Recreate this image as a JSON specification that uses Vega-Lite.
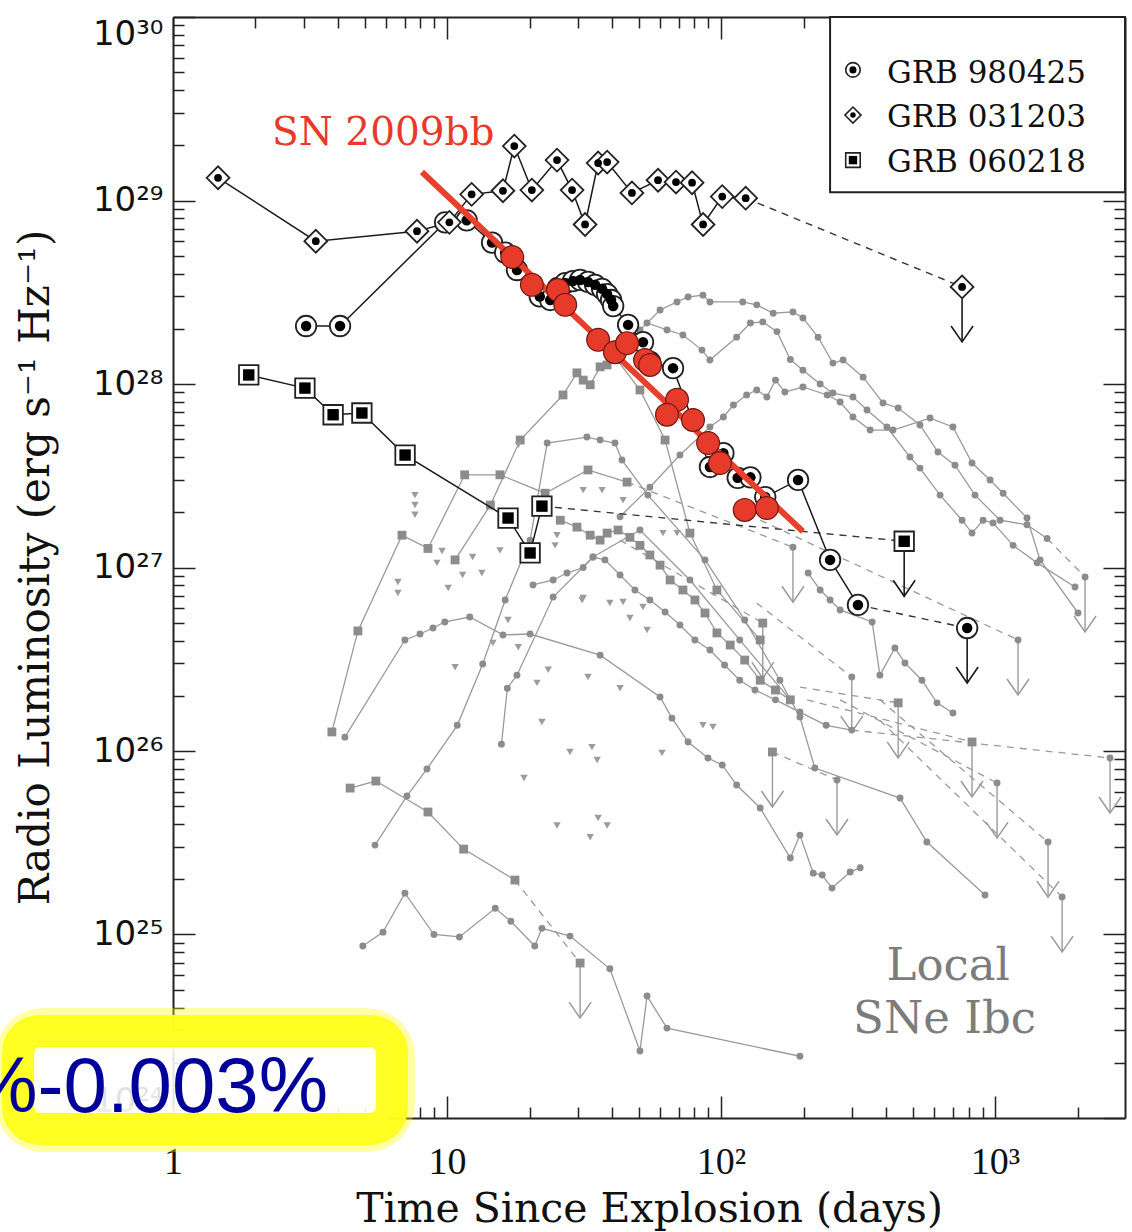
{
"$schema": "https://vega.github.io/schema/vega-lite/v6.json",
"width": 952, "height": 1101,
"padding": {"left": 173, "top": 17, "right": 7, "bottom": 114},
"autosize": {"type": "none"},
"background": "white",
"config": {"view": {"stroke": null}, "axis": {"grid": false}},
"datasets": {
"grey": [
{"s":"S1","m":"c","t":4.93,"L":8.66e24},{"s":"S1","m":"c","t":5.84,"L":1.03e25},{"s":"S1","m":"c","t":7.02,"L":1.68e25},{"s":"S1","m":"c","t":8.96,"L":1.0e25},{"s":"S1","m":"c","t":11.1,"L":9.7e24},{"s":"S1","m":"c","t":15.0,"L":1.39e25},{"s":"S1","m":"c","t":17.1,"L":1.18e25},{"s":"S1","m":"c","t":20.9,"L":8.66e24},{"s":"S1","m":"c","t":22.2,"L":1.08e25},{"s":"S1","m":"c","t":28.1,"L":9.8e24},{"s":"S1","m":"c","t":39.3,"L":6.5e24},{"s":"S1","m":"c","t":50.6,"L":2.32e24},{"s":"S1","m":"c","t":53.7,"L":4.62e24},{"s":"S1","m":"c","t":63.5,"L":3.09e24},{"s":"S1","m":"c","t":194,"L":2.17e24},
{"s":"S2","m":"s","t":4.43,"L":6.28e25},{"s":"S2","m":"s","t":5.5,"L":6.86e25},{"s":"S2","m":"s","t":8.52,"L":4.65e25},{"s":"S2","m":"s","t":11.5,"L":2.92e25},{"s":"S2","m":"s","t":17.7,"L":1.98e25},
{"s":"L1","m":"s","t":3.80,"L":1.27e26},{"s":"L1","m":"s","t":4.73,"L":4.51e26},{"s":"L1","m":"s","t":6.85,"L":1.5e27},{"s":"L1","m":"s","t":8.52,"L":1.27e27},{"s":"L1","m":"s","t":11.6,"L":3.2e27},{"s":"L1","m":"s","t":15.6,"L":3.2e27},{"s":"L1","m":"s","t":22.8,"L":2.54e27},{"s":"L1","m":"s","t":32.7,"L":3.4e27},{"s":"L1","m":"s","t":45.4,"L":2.92e27},
{"s":"L2","m":"c","t":4.24,"L":1.19e26},{"s":"L2","m":"c","t":7.02,"L":4.03e26},{"s":"L2","m":"c","t":7.97,"L":4.34e26},{"s":"L2","m":"c","t":8.89,"L":4.68e26},{"s":"L2","m":"c","t":9.82,"L":5.05e26},{"s":"L2","m":"c","t":12.1,"L":5.37e26},{"s":"L2","m":"c","t":16.0,"L":4.29e26},{"s":"L2","m":"c","t":20.1,"L":4.34e26},{"s":"L2","m":"c","t":36.2,"L":3.33e26},{"s":"L2","m":"c","t":59.9,"L":1.97e26},{"s":"L2","m":"c","t":66.2,"L":1.51e26},{"s":"L2","m":"c","t":75.8,"L":1.12e26},{"s":"L2","m":"c","t":89.6,"L":9.16e25},{"s":"L2","m":"c","t":101,"L":8.39e25},{"s":"L2","m":"c","t":114,"L":6.52e25},{"s":"L2","m":"c","t":139,"L":4.89e25},{"s":"L2","m":"c","t":179,"L":2.61e25},{"s":"L2","m":"c","t":194,"L":3.48e25},{"s":"L2","m":"c","t":217,"L":2.16e25},{"s":"L2","m":"c","t":234,"L":2.11e25},{"s":"L2","m":"c","t":254,"L":1.79e25},{"s":"L2","m":"c","t":296,"L":2.19e25},{"s":"L2","m":"c","t":322,"L":2.31e25},
{"s":"L3","m":"c","t":5.46,"L":3.07e25},{"s":"L3","m":"c","t":7.14,"L":5.68e25},{"s":"L3","m":"c","t":8.45,"L":7.98e25},{"s":"L3","m":"c","t":10.9,"L":1.38e26},{"s":"L3","m":"c","t":13.5,"L":2.98e26},{"s":"L3","m":"c","t":16.3,"L":6.65e26},{"s":"L3","m":"c","t":20.1,"L":1.41e27},{"s":"L3","m":"c","t":23.2,"L":4.77e27},{"s":"L3","m":"c","t":32.4,"L":5.14e27},{"s":"L3","m":"c","t":36.2,"L":4.95e27},{"s":"L3","m":"c","t":41.0,"L":4.77e27},{"s":"L3","m":"c","t":43.5,"L":3.85e27},{"s":"L3","m":"c","t":54.1,"L":2.48e27},{"s":"L3","m":"c","t":87.4,"L":1.1e27},{"s":"L3","m":"c","t":122,"L":5.18e26},{"s":"L3","m":"c","t":164,"L":2.43e26},{"s":"L3","m":"c","t":194,"L":1.53e26},{"s":"L3","m":"c","t":220,"L":8.08e25},{"s":"L3","m":"c","t":450,"L":5.54e25},{"s":"L3","m":"c","t":564,"L":3.19e25},{"s":"L3","m":"c","t":919,"L":1.64e25},
{"s":"L4","m":"c","t":15.8,"L":1.09e26},{"s":"L4","m":"c","t":16.6,"L":2.2e26},{"s":"L4","m":"c","t":18.0,"L":2.59e26},{"s":"L4","m":"c","t":24.4,"L":6.9e26},{"s":"L4","m":"c","t":34.1,"L":1.14e27},{"s":"L4","m":"c","t":50.6,"L":1.6e27},{"s":"L4","m":"c","t":77,"L":8.55e26},{"s":"L4","m":"c","t":117,"L":4.03e26},{"s":"L4","m":"c","t":179,"L":1.9e26},
{"s":"H4","m":"s","t":10.7,"L":1.1e27},{"s":"H4","m":"s","t":14.4,"L":2.19e27},{"s":"H4","m":"s","t":18.5,"L":4.95e27},{"s":"H4","m":"s","t":26.5,"L":8.71e27},{"s":"H4","m":"s","t":29.8,"L":1.15e28},{"s":"H4","m":"s","t":31.4,"L":1.05e28},{"s":"H4","m":"s","t":33.3,"L":9.9e27},{"s":"H4","m":"s","t":36.2,"L":1.24e28},{"s":"H4","m":"s","t":38.4,"L":1.27e28},{"s":"H4","m":"s","t":41.7,"L":1.36e28},{"s":"H4","m":"s","t":50.6,"L":9.28e27},{"s":"H4","m":"s","t":62.5,"L":4.95e27},{"s":"H4","m":"s","t":77,"L":1.54e27},{"s":"H4","m":"s","t":96.6,"L":7.54e26},{"s":"H4","m":"s","t":139,"L":4.03e26},
{"s":"D1","m":"s","t":25.9,"L":1.81e27},{"s":"D1","m":"s","t":29.8,"L":1.66e27},{"s":"D1","m":"s","t":33.3,"L":1.5e27},{"s":"D1","m":"s","t":36.2,"L":1.41e27},{"s":"D1","m":"s","t":38.4,"L":1.54e27},{"s":"D1","m":"s","t":42.1,"L":1.6e27},{"s":"D1","m":"s","t":46.5,"L":1.46e27},{"s":"D1","m":"s","t":50.6,"L":1.32e27},{"s":"D1","m":"s","t":55.0,"L":1.17e27},{"s":"D1","m":"s","t":59.9,"L":1.03e27},{"s":"D1","m":"s","t":65.2,"L":8.55e26},{"s":"D1","m":"s","t":72.6,"L":7.54e26},{"s":"D1","m":"s","t":80.3,"L":6.65e26},{"s":"D1","m":"s","t":87.4,"L":5.65e26},{"s":"D1","m":"s","t":96.6,"L":4.4e26},{"s":"D1","m":"s","t":108,"L":3.78e26},{"s":"D1","m":"s","t":122,"L":3.13e26},{"s":"D1","m":"s","t":139,"L":2.43e26},{"s":"D1","m":"s","t":158,"L":2.15e26},{"s":"D1","m":"s","t":179,"L":1.9e26},
{"s":"D2","m":"c","t":20.6,"L":8.03e26},{"s":"D2","m":"c","t":24.4,"L":8.55e26},{"s":"D2","m":"c","t":27.4,"L":9.33e26},{"s":"D2","m":"c","t":31.4,"L":1.0e27},{"s":"D2","m":"c","t":34.1,"L":1.14e27},{"s":"D2","m":"c","t":37.7,"L":1.1e27},{"s":"D2","m":"c","t":42.8,"L":9.1e26},{"s":"D2","m":"c","t":48.5,"L":7.54e26},{"s":"D2","m":"c","t":55.0,"L":6.65e26},{"s":"D2","m":"c","t":62.5,"L":5.72e26},{"s":"D2","m":"c","t":70.8,"L":4.86e26},{"s":"D2","m":"c","t":80.3,"L":4.03e26},{"s":"D2","m":"c","t":91.1,"L":3.55e26},{"s":"D2","m":"c","t":103,"L":2.94e26},{"s":"D2","m":"c","t":117,"L":2.43e26},{"s":"D2","m":"c","t":133,"L":2.15e26},{"s":"D2","m":"c","t":158,"L":1.9e26},{"s":"D2","m":"c","t":194,"L":1.63e26},{"s":"D2","m":"c","t":242,"L":1.38e26},{"s":"D2","m":"c","t":300,"L":1.3e26},
{"s":"E","m":"c","t":208,"L":9.33e26},{"s":"E","m":"c","t":230,"L":7.54e26},{"s":"E","m":"c","t":250,"L":6.65e26},{"s":"E","m":"c","t":272,"L":5.87e26},{"s":"E","m":"c","t":356,"L":5.05e26},{"s":"E","m":"c","t":380,"L":2.59e26},{"s":"E","m":"c","t":431,"L":3.64e26},{"s":"E","m":"c","t":469,"L":3.02e26},{"s":"E","m":"c","t":541,"L":2.43e26},{"s":"E","m":"c","t":614,"L":1.83e26},{"s":"E","m":"c","t":702,"L":1.61e26},
{"s":"A","m":"c","t":45.4,"L":1.63e28},{"s":"A","m":"c","t":50.6,"L":1.97e28},{"s":"A","m":"c","t":59.9,"L":2.53e28},{"s":"A","m":"c","t":69.1,"L":2.8e28},{"s":"A","m":"c","t":75.8,"L":2.98e28},{"s":"A","m":"c","t":85.9,"L":3.05e28},{"s":"A","m":"c","t":91.1,"L":2.8e28},{"s":"A","m":"c","t":120,"L":2.8e28},{"s":"A","m":"c","t":135,"L":2.7e28},{"s":"A","m":"c","t":155,"L":2.43e28},{"s":"A","m":"c","t":183,"L":2.47e28},{"s":"A","m":"c","t":199,"L":2.29e28},{"s":"A","m":"c","t":226,"L":1.8e28},{"s":"A","m":"c","t":256,"L":1.3e28},{"s":"A","m":"c","t":279,"L":1.35e28},{"s":"A","m":"c","t":330,"L":1.09e28},{"s":"A","m":"c","t":390,"L":7.88e27},{"s":"A","m":"c","t":443,"L":7.4e27},{"s":"A","m":"c","t":532,"L":5.98e27},{"s":"A","m":"c","t":619,"L":4.26e27},{"s":"A","m":"c","t":714,"L":3.61e27},{"s":"A","m":"c","t":845,"L":2.48e27},{"s":"A","m":"c","t":1043,"L":1.81e27},{"s":"A","m":"c","t":1308,"L":1.71e27},{"s":"A","m":"c","t":1549,"L":1.44e27},
{"s":"B","m":"c","t":53.7,"L":2.15e28},{"s":"B","m":"c","t":63.5,"L":1.97e28},{"s":"B","m":"c","t":72.6,"L":1.85e28},{"s":"B","m":"c","t":85.2,"L":1.53e28},{"s":"B","m":"c","t":91.1,"L":1.35e28},{"s":"B","m":"c","t":114,"L":1.8e28},{"s":"B","m":"c","t":128,"L":2.15e28},{"s":"B","m":"c","t":142,"L":2.18e28},{"s":"B","m":"c","t":160,"L":1.93e28},{"s":"B","m":"c","t":179,"L":1.36e28},{"s":"B","m":"c","t":199,"L":1.19e28},{"s":"B","m":"c","t":230,"L":1.0e28},{"s":"B","m":"c","t":256,"L":8.93e27},{"s":"B","m":"c","t":303,"L":8.49e27},{"s":"B","m":"c","t":341,"L":7.21e27},{"s":"B","m":"c","t":403,"L":5.83e27},{"s":"B","m":"c","t":489,"L":4.0e27},{"s":"B","m":"c","t":532,"L":3.48e27},{"s":"B","m":"c","t":630,"L":2.48e27},{"s":"B","m":"c","t":758,"L":1.81e27},{"s":"B","m":"c","t":824,"L":1.54e27},{"s":"B","m":"c","t":904,"L":1.81e27},{"s":"B","m":"c","t":983,"L":1.75e27},{"s":"B","m":"c","t":1164,"L":1.32e27},{"s":"B","m":"c","t":1424,"L":1.06e27},{"s":"B","m":"c","t":1958,"L":7.83e26},
{"s":"C","m":"c","t":42.8,"L":1.89e27},{"s":"C","m":"c","t":55.0,"L":2.74e27},{"s":"C","m":"c","t":70.8,"L":4.1e27},{"s":"C","m":"c","t":91.1,"L":5.83e27},{"s":"C","m":"c","t":102,"L":6.61e27},{"s":"C","m":"c","t":111,"L":7.68e27},{"s":"C","m":"c","t":124,"L":8.71e27},{"s":"C","m":"c","t":135,"L":9.28e27},{"s":"C","m":"c","t":147,"L":8.49e27},{"s":"C","m":"c","t":158,"L":1.05e28},{"s":"C","m":"c","t":171,"L":9.04e27},{"s":"C","m":"c","t":199,"L":9.63e27},{"s":"C","m":"c","t":244,"L":8.71e27},{"s":"C","m":"c","t":272,"L":7.98e27},{"s":"C","m":"c","t":303,"L":6.61e27},{"s":"C","m":"c","t":350,"L":5.61e27},{"s":"C","m":"c","t":424,"L":5.61e27},{"s":"C","m":"c","t":579,"L":6.52e27},{"s":"C","m":"c","t":702,"L":5.83e27},{"s":"C","m":"c","t":824,"L":3.71e27},{"s":"C","m":"c","t":959,"L":3.0e27},{"s":"C","m":"c","t":1070,"L":2.54e27},{"s":"C","m":"c","t":1308,"L":1.86e27},{"s":"C","m":"c","t":1460,"L":1.1e27},{"s":"C","m":"c","t":2008,"L":5.65e26},
{"s":"U1","m":"s","u":1,"t":30.6,"L":6.99e24},{"s":"U2","m":"c","u":1,"t":183,"L":1.29e27},{"s":"U3","m":"s","u":1,"t":142,"L":4.98e26},{"s":"U4","m":"s","u":1,"t":154,"L":9.88e25},{"s":"U5","m":"c","u":1,"t":265,"L":6.95e25},{"s":"U6","m":"c","u":1,"t":300,"L":2.53e26},{"s":"U7","m":"s","u":1,"t":443,"L":1.83e26},{"s":"U8","m":"s","u":1,"t":824,"L":1.12e26},{"s":"U9","m":"c","u":1,"t":1017,"L":6.69e25},{"s":"U10","m":"c","u":1,"t":1213,"L":4.03e26},{"s":"U11","m":"c","u":1,"t":1561,"L":3.19e25},{"s":"U12","m":"c","u":1,"t":1757,"L":1.6e25},{"s":"U13","m":"c","u":1,"t":2130,"L":8.88e26},{"s":"U14","m":"c","u":1,"t":2628,"L":9.16e25}
],
"greyDash": [
{"s":"d0","t":17.7,"L":1.98e25},{"s":"d0","t":30.6,"L":6.99e24},
{"s":"d1","t":139,"L":1.81e27},{"s":"d1","t":1213,"L":4.03e26},
{"s":"d2","t":42.8,"L":1.41e27},{"s":"d2","t":142,"L":4.98e26},
{"s":"d3","t":135,"L":6.41e26},{"s":"d3","t":300,"L":2.53e26},
{"s":"d4","t":194,"L":2.23e26},{"s":"d4","t":443,"L":1.83e26},
{"s":"d5","t":206,"L":1.9e26},{"s":"d5","t":824,"L":1.12e26},
{"s":"d6","t":272,"L":1.9e26},{"s":"d6","t":1017,"L":6.69e25},
{"s":"d7","t":380,"L":1.9e26},{"s":"d7","t":1561,"L":3.19e25},
{"s":"d8","t":380,"L":1.47e26},{"s":"d8","t":1757,"L":1.6e25},
{"s":"d9","t":300,"L":1.3e26},{"s":"d9","t":2628,"L":9.16e25},
{"s":"d10","t":154,"L":9.88e25},{"s":"d10","t":265,"L":6.95e25},
{"s":"d11","t":1549,"L":1.44e27},{"s":"d11","t":2130,"L":8.88e26},
{"s":"d13","t":45.4,"L":2.92e27},{"s":"d13","t":183,"L":1.29e27}
],
"tri": [
{"t":7.64,"L":2.48e27},{"t":7.64,"L":2.19e27},{"t":7.64,"L":1.94e27},{"t":6.62,"L":8.33e26},{"t":6.62,"L":7.26e26},{"t":9.59,"L":1.23e27},{"t":9.19,"L":1.06e27},{"t":10.7,"L":2.86e26},{"t":18.2,"L":4.65e27},{"t":21.3,"L":2.35e26},{"t":23.4,"L":2.77e26},{"t":32.7,"L":2.53e26},{"t":22.2,"L":1.44e26},{"t":28.1,"L":9.88e25},{"t":33.8,"L":1.05e26},{"t":35.3,"L":8.93e25},{"t":60.9,"L":9.75e25},{"t":93.4,"L":1.35e26},{"t":31.4,"L":2.64e27},{"t":36.8,"L":2.64e27},{"t":43.9,"L":2.33e27},{"t":12.4,"L":1.14e27},{"t":13.4,"L":9.33e26},{"t":15.6,"L":1.24e27},{"t":16.7,"L":5.18e26},{"t":25.2,"L":1.5e27},{"t":24.8,"L":1.32e27},{"t":31.4,"L":6.82e26},{"t":39.3,"L":6.41e26},{"t":43.9,"L":6.49e26},{"t":51.9,"L":6.09e26},{"t":53.7,"L":4.56e26},{"t":61.4,"L":1.54e27},{"t":46.5,"L":5.31e26},{"t":19.1,"L":7.12e25},{"t":25.2,"L":3.93e25},{"t":33.3,"L":3.39e25},{"t":35.6,"L":4.31e25},{"t":38.4,"L":3.93e25},{"t":42.8,"L":2.2e26},{"t":85.9,"L":1.38e26},{"t":14.7,"L":3.88e26},{"t":18.2,"L":3.68e26},{"t":11.4,"L":9.1e26},{"t":10.1,"L":7.73e26},{"t":31.1,"L":6.65e26},{"t":69.1,"L":1.54e27}
],
"grb": [
{"g":"GRB 980425","t":3.06,"L":2.07e28},{"g":"GRB 980425","t":4.07,"L":2.07e28},{"g":"GRB 980425","t":9.84,"L":7.6e28},{"g":"GRB 980425","t":11.8,"L":7.8e28},{"g":"GRB 980425","t":14.6,"L":5.9e28},{"g":"GRB 980425","t":16.3,"L":5.2e28},{"g":"GRB 980425","t":18.0,"L":4.18e28},{"g":"GRB 980425","t":21.8,"L":3.0e28},{"g":"GRB 980425","t":23.8,"L":2.87e28},{"g":"GRB 980425","t":25.4,"L":3.34e28},{"g":"GRB 980425","t":27.0,"L":3.55e28},{"g":"GRB 980425","t":28.8,"L":3.64e28},{"g":"GRB 980425","t":30.6,"L":3.69e28},{"g":"GRB 980425","t":32.7,"L":3.6e28},{"g":"GRB 980425","t":34.7,"L":3.47e28},{"g":"GRB 980425","t":36.8,"L":3.3e28},{"g":"GRB 980425","t":38.4,"L":3.09e28},{"g":"GRB 980425","t":39.7,"L":2.87e28},{"g":"GRB 980425","t":40.4,"L":2.66e28},{"g":"GRB 980425","t":45.8,"L":2.1e28},{"g":"GRB 980425","t":51.9,"L":1.69e28},{"g":"GRB 980425","t":55.1,"L":1.32e28},{"g":"GRB 980425","t":66.8,"L":1.22e28},{"g":"GRB 980425","t":91.1,"L":3.53e27},{"g":"GRB 980425","t":102,"L":4.2e27},{"g":"GRB 980425","t":115,"L":3.08e27},{"g":"GRB 980425","t":128,"L":3.1e27},{"g":"GRB 980425","t":145,"L":2.42e27},{"g":"GRB 980425","t":191,"L":3.0e27},{"g":"GRB 980425","t":250,"L":1.1e27},{"g":"GRB 980425","t":316,"L":6.25e26},
{"g":"GRB 980425","u":1,"t":791,"L":4.68e26},
{"g":"GRB 031203","t":1.46,"L":1.33e29},{"g":"GRB 031203","t":3.32,"L":6.0e28},{"g":"GRB 031203","t":7.77,"L":6.8e28},{"g":"GRB 031203","t":10.2,"L":7.6e28},{"g":"GRB 031203","t":12.3,"L":1.08e29},{"g":"GRB 031203","t":16.0,"L":1.13e29},{"g":"GRB 031203","t":17.6,"L":1.98e29},{"g":"GRB 031203","t":20.4,"L":1.14e29},{"g":"GRB 031203","t":25.2,"L":1.66e29},{"g":"GRB 031203","t":28.6,"L":1.14e29},{"g":"GRB 031203","t":31.9,"L":7.4e28},{"g":"GRB 031203","t":35.6,"L":1.6e29},{"g":"GRB 031203","t":38.4,"L":1.62e29},{"g":"GRB 031203","t":47.3,"L":1.1e29},{"g":"GRB 031203","t":58.9,"L":1.29e29},{"g":"GRB 031203","t":68.5,"L":1.26e29},{"g":"GRB 031203","t":78.4,"L":1.25e29},{"g":"GRB 031203","t":86.0,"L":7.4e28},{"g":"GRB 031203","t":101,"L":1.05e29},{"g":"GRB 031203","t":123,"L":1.03e29},
{"g":"GRB 031203","u":1,"t":758,"L":3.38e28},
{"g":"GRB 060218","t":1.89,"L":1.12e28},{"g":"GRB 060218","t":3.03,"L":9.5e27},{"g":"GRB 060218","t":3.84,"L":6.8e27},{"g":"GRB 060218","t":4.89,"L":6.95e27},{"g":"GRB 060218","t":7.03,"L":4.1e27},{"g":"GRB 060218","t":16.7,"L":1.86e27},{"g":"GRB 060218","t":20.1,"L":1.2e27},{"g":"GRB 060218","t":22.2,"L":2.16e27},
{"g":"GRB 060218","u":1,"t":466,"L":1.39e27}
],
"grbDash": [
{"g":"GRB 980425","t":316,"L":6.25e26},{"g":"GRB 980425","t":791,"L":4.68e26},
{"g":"GRB 031203","t":123,"L":1.03e29},{"g":"GRB 031203","t":758,"L":3.38e28},
{"g":"GRB 060218","t":22.2,"L":2.16e27},{"g":"GRB 060218","t":466,"L":1.39e27}
],
"sn": [
{"t":17.3,"L":4.92e28},{"t":20.4,"L":3.47e28},{"t":25.4,"L":3.25e28},{"t":27.0,"L":2.7e28},{"t":35.6,"L":1.74e28},{"t":41.0,"L":1.49e28},{"t":45.4,"L":1.67e28},{"t":52.8,"L":1.35e28},{"t":55.1,"L":1.27e28},{"t":69.1,"L":8.2e27},{"t":63.5,"L":6.8e27},{"t":79.0,"L":6.37e27},{"t":89.7,"L":4.77e27},{"t":99.1,"L":3.71e27},{"t":122,"L":2.06e27},{"t":147,"L":2.11e27}
],
"fit": [{"t":8.1,"L":1.43e29},{"t":199,"L":1.57e27}],
"legBox": [{"t":250,"t2":2980,"L":1.11e29,"L2":1e30}],
"leg": [
{"g":"GRB 980425","t":303,"tx":403,"L":5.15e29,"Lt":4.37e29},
{"g":"GRB 031203","t":303,"tx":403,"L":2.92e29,"Lt":2.51e29},
{"g":"GRB 060218","t":303,"tx":403,"L":1.66e29,"Lt":1.43e29}
],
"txtRed": [{"txt":"SN 2009bb","t":2.3,"L":2.0e29}],
"txtGrey": [{"txt":"Local","t":675,"L":5.65e24},{"txt":"SNe Ibc","t":654,"L":2.9e24}],
"box": [{"t":0.272,"t2":6.3,"L":8.71e23,"L2":2.98e24}],
"boxTxt": [{"txt":"%-0.003%","t":3.68,"L":1.08e24}]
},
"layer": [
{"data":{"name":"fit"},"mark":{"type":"point","opacity":0},
 "encoding":{
  "x":{"field":"t","type":"quantitative","scale":{"type":"log","domain":[1,2980],"nice":false},
   "axis":{"title":"Time Since Explosion (days)","values":[1,2,3,4,5,6,7,8,9,10,20,30,40,50,60,70,80,90,100,200,300,400,500,600,700,800,900,1000,2000],
    "labelExpr":"datum.value == 1 ? '1' : datum.value == 10 ? '10' : datum.value == 100 ? '10²' : datum.value == 1000 ? '10³' : ''",
    "labelFont":"Liberation Serif","labelFontSize":38,"labelColor":"#111","labelPadding":47,"labelOverlap":false,"labelFlush":false,
    "tickSize":{"condition":{"test":"datum.value == 1 || datum.value == 10 || datum.value == 100 || datum.value == 1000","value":-22},"value":-11},
    "tickColor":"#222","tickWidth":1.5,"domainColor":"#222","domainWidth":2,
    "titleFont":"DejaVu Serif","titleFontSize":41,"titleFontWeight":"normal","titleColor":"#111","titleY":103,"titleBaseline":"alphabetic"}},
  "y":{"field":"L","type":"quantitative","scale":{"type":"log","domain":[1e24,1e30],"nice":false},
   "axis":{"title":"Radio Luminosity (erg s⁻¹ Hz⁻¹)","values":[1e24,2e24,3e24,4e24,5e24,6e24,7e24,8e24,9e24,1e25,2e25,3e25,4e25,5e25,6e25,7e25,8e25,9e25,1e26,2e26,3e26,4e26,5e26,6e26,7e26,8e26,9e26,1e27,2e27,3e27,4e27,5e27,6e27,7e27,8e27,9e27,1e28,2e28,3e28,4e28,5e28,6e28,7e28,8e28,9e28,1e29,2e29,3e29,4e29,5e29,6e29,7e29,8e29,9e29,1e30],
    "labelExpr":"datum.value == 1e24 ? '10²⁴' : datum.value == 1e25 ? '10²⁵' : datum.value == 1e26 ? '10²⁶' : datum.value == 1e27 ? '10²⁷' : datum.value == 1e28 ? '10²⁸' : datum.value == 1e29 ? '10²⁹' : datum.value == 1e30 ? '10³⁰' : ''",
    "labelFont":"DejaVu Sans","labelFontSize":34,"labelColor":"#111","labelPadding":32,"labelOverlap":false,"labelFlush":true,
    "tickSize":{"condition":{"test":"indexof([1e24,1e25,1e26,1e27,1e28,1e29,1e30], datum.value) >= 0","value":-22},"value":-11},
    "tickColor":"#222","tickWidth":1.5,"domainColor":"#222","domainWidth":2,
    "titleFont":"DejaVu Serif","titleFontSize":42,"titleFontWeight":"normal","titleColor":"#111","titleX":-138,"titleY":550,"titleAlign":"center","titleBaseline":"middle","titleAngle":-90}}
 }},
{"data":{"name":"fit"},"mark":{"type":"point","opacity":0},
 "encoding":{
  "x":{"field":"t","type":"quantitative","scale":{"type":"log","domain":[1,2980],"nice":false},
   "axis":{"orient":"top","title":null,"labels":false,"values":[1,2,3,4,5,6,7,8,9,10,20,30,40,50,60,70,80,90,100,200,300,400,500,600,700,800,900,1000,2000],
    "tickSize":{"condition":{"test":"datum.value == 1 || datum.value == 10 || datum.value == 100 || datum.value == 1000","value":-22},"value":-11},
    "tickColor":"#222","tickWidth":1.5,"domainColor":"#222","domainWidth":2}},
  "y":{"field":"L","type":"quantitative","scale":{"type":"log","domain":[1e24,1e30],"nice":false},
   "axis":{"orient":"right","title":null,"labels":false,"values":[1e24,2e24,3e24,4e24,5e24,6e24,7e24,8e24,9e24,1e25,2e25,3e25,4e25,5e25,6e25,7e25,8e25,9e25,1e26,2e26,3e26,4e26,5e26,6e26,7e26,8e26,9e26,1e27,2e27,3e27,4e27,5e27,6e27,7e27,8e27,9e27,1e28,2e28,3e28,4e28,5e28,6e28,7e28,8e28,9e28,1e29,2e29,3e29,4e29,5e29,6e29,7e29,8e29,9e29,1e30],
    "tickSize":{"condition":{"test":"indexof([1e24,1e25,1e26,1e27,1e28,1e29,1e30], datum.value) >= 0","value":-22},"value":-11},
    "tickColor":"#222","tickWidth":1.5,"domainColor":"#222","domainWidth":2}}
 }},
{"data":{"name":"greyDash"},"mark":{"type":"line","color":"#9a9a9a","strokeWidth":1.3,"strokeDash":[7,6]},
 "encoding":{"x":{"field":"t","type":"quantitative","axis":null},"y":{"field":"L","type":"quantitative","axis":null},"detail":{"field":"s"}}},
{"data":{"name":"grey"},"transform":[{"filter":"datum.u != 1"}],"mark":{"type":"line","color":"#9a9a9a","strokeWidth":1.3},
 "encoding":{"x":{"field":"t","type":"quantitative","axis":null},"y":{"field":"L","type":"quantitative","axis":null},"detail":{"field":"s"}}},
{"data":{"name":"grey"},"transform":[{"filter":"datum.u == 1"}],"mark":{"type":"rule","color":"#9a9a9a","strokeWidth":1.4,"y2Offset":55},
 "encoding":{"x":{"field":"t","type":"quantitative","axis":null},"y":{"field":"L","type":"quantitative","axis":null},"y2":{"field":"L"}}},
{"data":{"name":"grey"},"transform":[{"filter":"datum.u == 1"}],"mark":{"type":"point","shape":"M-1,-1.45L0,0L1,-1.45","filled":false,"stroke":"#9a9a9a","strokeWidth":1.5,"size":484,"opacity":1,"yOffset":55},
 "encoding":{"x":{"field":"t","type":"quantitative","axis":null},"y":{"field":"L","type":"quantitative","axis":null}}},
{"data":{"name":"grey"},"transform":[{"filter":"datum.m == 'c'"}],"mark":{"type":"point","shape":"circle","filled":true,"color":"#8c8c8c","size":48,"opacity":1},
 "encoding":{"x":{"field":"t","type":"quantitative","axis":null},"y":{"field":"L","type":"quantitative","axis":null}}},
{"data":{"name":"grey"},"transform":[{"filter":"datum.m == 's'"}],"mark":{"type":"point","shape":"square","filled":true,"color":"#8c8c8c","size":78,"opacity":1},
 "encoding":{"x":{"field":"t","type":"quantitative","axis":null},"y":{"field":"L","type":"quantitative","axis":null}}},
{"data":{"name":"tri"},"mark":{"type":"point","shape":"triangle-down","filled":true,"color":"#9c9c9c","size":55,"opacity":1},
 "encoding":{"x":{"field":"t","type":"quantitative","axis":null},"y":{"field":"L","type":"quantitative","axis":null}}},
{"data":{"name":"grbDash"},"mark":{"type":"line","color":"#333","strokeWidth":1.4,"strokeDash":[7,6]},
 "encoding":{"x":{"field":"t","type":"quantitative","axis":null},"y":{"field":"L","type":"quantitative","axis":null},"detail":{"field":"g"}}},
{"data":{"name":"grb"},"transform":[{"filter":"datum.u != 1"}],"mark":{"type":"line","color":"#1a1a1a","strokeWidth":1.5},
 "encoding":{"x":{"field":"t","type":"quantitative","axis":null},"y":{"field":"L","type":"quantitative","axis":null},"detail":{"field":"g"}}},
{"data":{"name":"grb"},"transform":[{"filter":"datum.u == 1"}],"mark":{"type":"rule","color":"#1a1a1a","strokeWidth":1.6,"y2Offset":55},
 "encoding":{"x":{"field":"t","type":"quantitative","axis":null},"y":{"field":"L","type":"quantitative","axis":null},"y2":{"field":"L"}}},
{"data":{"name":"grb"},"transform":[{"filter":"datum.u == 1"}],"mark":{"type":"point","shape":"M-1,-1.45L0,0L1,-1.45","filled":false,"stroke":"#1a1a1a","strokeWidth":1.6,"size":484,"opacity":1,"yOffset":55},
 "encoding":{"x":{"field":"t","type":"quantitative","axis":null},"y":{"field":"L","type":"quantitative","axis":null}}},
{"data":{"name":"grb"},"transform":[{"filter":"datum.g == 'GRB 980425'"}],"mark":{"type":"point","shape":"circle","filled":true,"fill":"white","stroke":"#222","strokeWidth":1.8,"size":420,"opacity":1},
 "encoding":{"x":{"field":"t","type":"quantitative","axis":null},"y":{"field":"L","type":"quantitative","axis":null}}},
{"data":{"name":"grb"},"transform":[{"filter":"datum.g == 'GRB 980425'"}],"mark":{"type":"point","shape":"circle","filled":true,"color":"#000","size":110,"opacity":1},
 "encoding":{"x":{"field":"t","type":"quantitative","axis":null},"y":{"field":"L","type":"quantitative","axis":null}}},
{"data":{"name":"grb"},"transform":[{"filter":"datum.g == 'GRB 031203'"}],"mark":{"type":"point","shape":"diamond","filled":true,"fill":"white","stroke":"#222","strokeWidth":1.8,"size":520,"opacity":1},
 "encoding":{"x":{"field":"t","type":"quantitative","axis":null},"y":{"field":"L","type":"quantitative","axis":null}}},
{"data":{"name":"grb"},"transform":[{"filter":"datum.g == 'GRB 031203'"}],"mark":{"type":"point","shape":"circle","filled":true,"color":"#000","size":60,"opacity":1},
 "encoding":{"x":{"field":"t","type":"quantitative","axis":null},"y":{"field":"L","type":"quantitative","axis":null}}},
{"data":{"name":"grb"},"transform":[{"filter":"datum.g == 'GRB 060218'"}],"mark":{"type":"point","shape":"square","filled":true,"fill":"white","stroke":"#222","strokeWidth":1.8,"size":380,"opacity":1},
 "encoding":{"x":{"field":"t","type":"quantitative","axis":null},"y":{"field":"L","type":"quantitative","axis":null}}},
{"data":{"name":"grb"},"transform":[{"filter":"datum.g == 'GRB 060218'"}],"mark":{"type":"point","shape":"square","filled":true,"color":"#000","size":130,"opacity":1},
 "encoding":{"x":{"field":"t","type":"quantitative","axis":null},"y":{"field":"L","type":"quantitative","axis":null}}},
{"data":{"name":"fit"},"mark":{"type":"line","color":"#e8402c","strokeWidth":6},
 "encoding":{"x":{"field":"t","type":"quantitative","axis":null},"y":{"field":"L","type":"quantitative","axis":null}}},
{"data":{"name":"sn"},"mark":{"type":"point","shape":"circle","filled":true,"fill":"#e63b2a","stroke":"#6b1a12","strokeWidth":1.2,"size":520,"opacity":1},
 "encoding":{"x":{"field":"t","type":"quantitative","axis":null},"y":{"field":"L","type":"quantitative","axis":null}}},
{"data":{"name":"legBox"},"mark":{"type":"rect","fill":"white","stroke":"#222","strokeWidth":2},
 "encoding":{"x":{"field":"t","type":"quantitative","axis":null},"x2":{"field":"t2"},"y":{"field":"L","type":"quantitative","axis":null},"y2":{"field":"L2"}}},
{"data":{"name":"leg"},"transform":[{"filter":"datum.g == 'GRB 980425'"}],"mark":{"type":"point","shape":"circle","filled":true,"fill":"white","stroke":"#222","strokeWidth":1.6,"size":210,"opacity":1},
 "encoding":{"x":{"field":"t","type":"quantitative","axis":null},"y":{"field":"L","type":"quantitative","axis":null}}},
{"data":{"name":"leg"},"transform":[{"filter":"datum.g == 'GRB 980425'"}],"mark":{"type":"point","shape":"circle","filled":true,"color":"#000","size":50,"opacity":1},
 "encoding":{"x":{"field":"t","type":"quantitative","axis":null},"y":{"field":"L","type":"quantitative","axis":null}}},
{"data":{"name":"leg"},"transform":[{"filter":"datum.g == 'GRB 031203'"}],"mark":{"type":"point","shape":"diamond","filled":true,"fill":"white","stroke":"#222","strokeWidth":1.6,"size":260,"opacity":1},
 "encoding":{"x":{"field":"t","type":"quantitative","axis":null},"y":{"field":"L","type":"quantitative","axis":null}}},
{"data":{"name":"leg"},"transform":[{"filter":"datum.g == 'GRB 031203'"}],"mark":{"type":"point","shape":"circle","filled":true,"color":"#000","size":30,"opacity":1},
 "encoding":{"x":{"field":"t","type":"quantitative","axis":null},"y":{"field":"L","type":"quantitative","axis":null}}},
{"data":{"name":"leg"},"transform":[{"filter":"datum.g == 'GRB 060218'"}],"mark":{"type":"point","shape":"square","filled":true,"fill":"white","stroke":"#222","strokeWidth":1.6,"size":210,"opacity":1},
 "encoding":{"x":{"field":"t","type":"quantitative","axis":null},"y":{"field":"L","type":"quantitative","axis":null}}},
{"data":{"name":"leg"},"transform":[{"filter":"datum.g == 'GRB 060218'"}],"mark":{"type":"point","shape":"square","filled":true,"color":"#000","size":70,"opacity":1},
 "encoding":{"x":{"field":"t","type":"quantitative","axis":null},"y":{"field":"L","type":"quantitative","axis":null}}},
{"data":{"name":"leg"},"mark":{"type":"text","font":"DejaVu Serif","fontSize":31,"color":"#111","align":"left","baseline":"alphabetic"},
 "encoding":{"x":{"field":"tx","type":"quantitative","axis":null},"y":{"field":"Lt","type":"quantitative","axis":null},"text":{"field":"g"}}},
{"data":{"name":"txtRed"},"mark":{"type":"text","font":"DejaVu Serif","fontSize":39,"color":"#e8392b","align":"left","baseline":"alphabetic"},
 "encoding":{"x":{"field":"t","type":"quantitative","axis":null},"y":{"field":"L","type":"quantitative","axis":null},"text":{"field":"txt"}}},
{"data":{"name":"txtGrey"},"mark":{"type":"text","font":"DejaVu Serif","fontSize":45,"color":"#7c7c7c","align":"center","baseline":"alphabetic"},
 "encoding":{"x":{"field":"t","type":"quantitative","axis":null},"y":{"field":"L","type":"quantitative","axis":null},"text":{"field":"txt"}}},
{"data":{"name":"box"},"mark":{"type":"rect","fill":"white","fillOpacity":0,"stroke":"#ffff00","strokeWidth":46,"strokeOpacity":0.35,"cornerRadius":26,"clip":false},
 "encoding":{"x":{"field":"t","type":"quantitative","axis":null},"x2":{"field":"t2"},"y":{"field":"L","type":"quantitative","axis":null},"y2":{"field":"L2"}}},
{"data":{"name":"box"},"mark":{"type":"rect","fill":"white","fillOpacity":0.88,"stroke":"#ffff1a","strokeWidth":32,"strokeOpacity":0.95,"cornerRadius":22,"clip":false},
 "encoding":{"x":{"field":"t","type":"quantitative","axis":null},"x2":{"field":"t2"},"y":{"field":"L","type":"quantitative","axis":null},"y2":{"field":"L2"}}},
{"data":{"name":"boxTxt"},"mark":{"type":"text","font":"Liberation Sans","fontSize":78,"color":"#00009a","align":"right","baseline":"alphabetic","clip":false},
 "encoding":{"x":{"field":"t","type":"quantitative","axis":null},"y":{"field":"L","type":"quantitative","axis":null},"text":{"field":"txt"}}}
],
"resolve": {"axis": {"x": "independent", "y": "independent"}}
}
